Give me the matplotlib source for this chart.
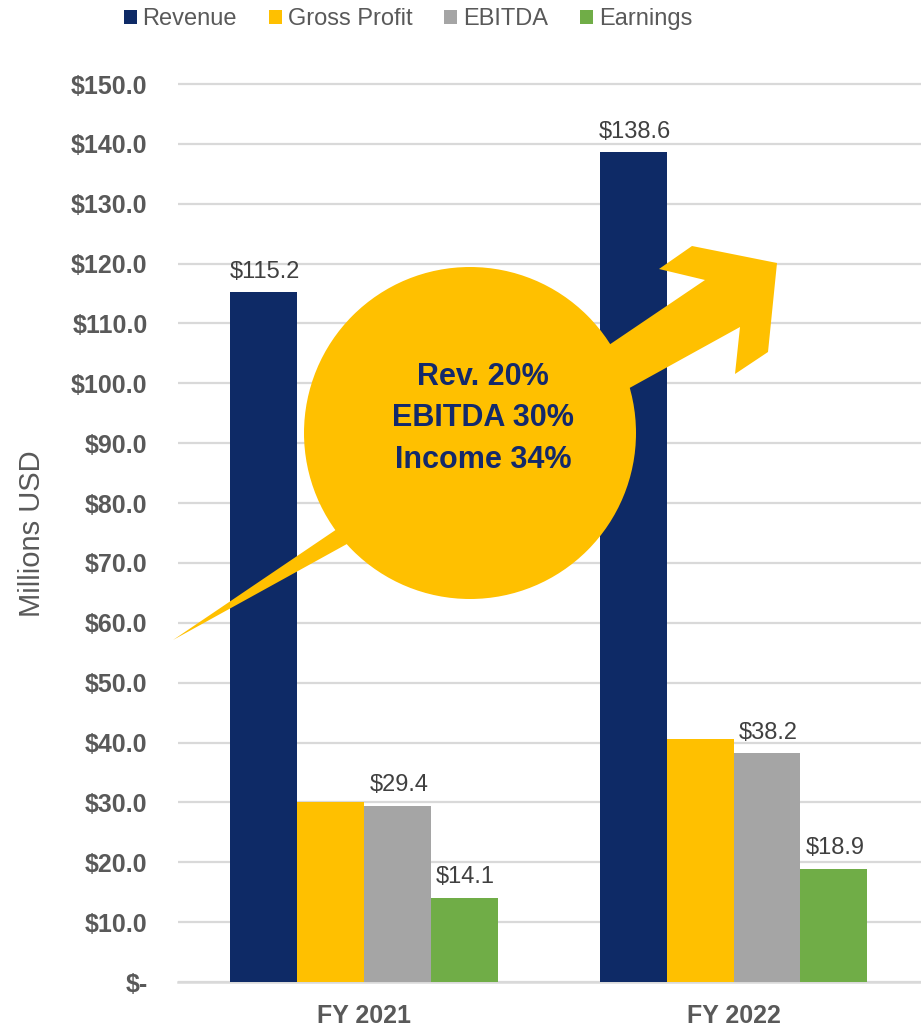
import matplotlib.pyplot as plt
from matplotlib.patches import Polygon, Circle, Patch


# data =========================================================
years = ["FY 2021", "FY 2022"]
series = ["Revenue", "Gross Profit", "EBITDA", "Earnings"]
revenue = [115.2, 138.6]
gross_profit = [30.1, 40.6]
ebitda = [29.4, 38.2]
earnings = [14.1, 18.9]
show_labels = [True, False, True, True]  # gross profit labels not shown
y_ticks = [0, 10, 20, 30, 40, 50, 60, 70, 80, 90, 100, 110, 120, 130, 140, 150]
callout_lines = ["Rev. 20%", "EBITDA 30%", "Income 34%"]
# ==============================================================

COLORS = ["#0E2A66", "#FFC000", "#A5A5A5", "#70AD47"]
NAVY = "#13296B"
GOLD = "#FFC000"
TICK_GRAY = "#595959"
LABEL_GRAY = "#404040"
GRID = "#D9D9D9"
W, H = 921, 1028
FONT = "Liberation Sans"

plt.rcParams['font.family'] = [FONT, 'DejaVu Sans']

fig = plt.figure(figsize=(W / 100, H / 100), dpi=100)

# main axes, placed in pixel terms
left_px, right_px, bottom_px, top_px = 178, 921, 982, 84
ymax = 150.5
height_px = (bottom_px - top_px) * ymax / 150
ax = fig.add_axes([left_px / W, (H - bottom_px) / H,
                   (right_px - left_px) / W, height_px / H])

bar_w = 0.181
values = [revenue, gross_profit, ebitda, earnings]
x = list(range(len(years)))
for i, (name, vals) in enumerate(zip(series, values)):
    offs = (i - 1.5) * bar_w
    xs = [xx + offs for xx in x]
    ax.bar(xs, vals, width=bar_w, color=COLORS[i], label=name, zorder=3)
    if show_labels[i]:
        for xx, v in zip(xs, vals):
            ax.annotate(f"${v:.1f}", (xx, v), xytext=(1, 10.5), textcoords="offset points",
                        ha="center", va="baseline", fontsize=17, color=LABEL_GRAY, zorder=4)

ax.set_xlim(-0.503, 1.507)
ax.set_ylim(0, ymax)
ax.set_yticks(y_ticks)
ax.set_yticklabels(["$-" if t == 0 else f"${t:.1f}" for t in y_ticks],
                   fontsize=18, fontweight="bold", color=TICK_GRAY)
ax.set_xticks(x)
ax.set_xticklabels(years, fontsize=18, fontweight="bold", color=TICK_GRAY)
ax.tick_params(axis="y", length=0, pad=22)
ax.tick_params(axis="x", length=0, pad=16)
ax.yaxis.grid(True, color=GRID, linewidth=1.6, zorder=0)
ax.set_axisbelow(True)
for s in ["top", "right", "left"]:
    ax.spines[s].set_visible(False)
ax.spines["bottom"].set_color(GRID)
ax.spines["bottom"].set_linewidth(1.8)

fig.text(32 / W, 1 - 534 / H, "Millions USD", rotation=90, ha="center", va="center",
         fontsize=21, color=TICK_GRAY)

# legend across the top
handles = [Patch(facecolor=c, edgecolor="none") for c in COLORS]
fig.legend(handles, series, loc="center", bbox_to_anchor=(0.443, 1 - 19 / H), ncol=4,
           frameon=False, fontsize=17, labelcolor=TICK_GRAY, handlelength=0.55,
           handleheight=0.55, handletextpad=0.25, columnspacing=1.35, borderpad=0)

# yellow growth arrow + circle callout, drawn on a pixel overlay
over = fig.add_axes([0, 0, 1, 1], zorder=5)
over.set_xlim(0, W)
over.set_ylim(H, 0)
over.axis("off")
arrow_pts = [(173, 640), (705, 280), (659, 269), (692, 246), (777, 263),
             (768, 352), (735, 374), (740, 327)]
over.add_patch(Polygon(arrow_pts, closed=True, facecolor=GOLD, edgecolor="none"))
over.add_patch(Circle((470, 433), 166, facecolor=GOLD, edgecolor="none"))
for k, line in enumerate(callout_lines):
    over.text(483, 377 + 41.5 * k, line, ha="center", va="center", fontsize=22,
              fontweight="bold", color=NAVY)

fig.savefig("out.png", dpi=100)
